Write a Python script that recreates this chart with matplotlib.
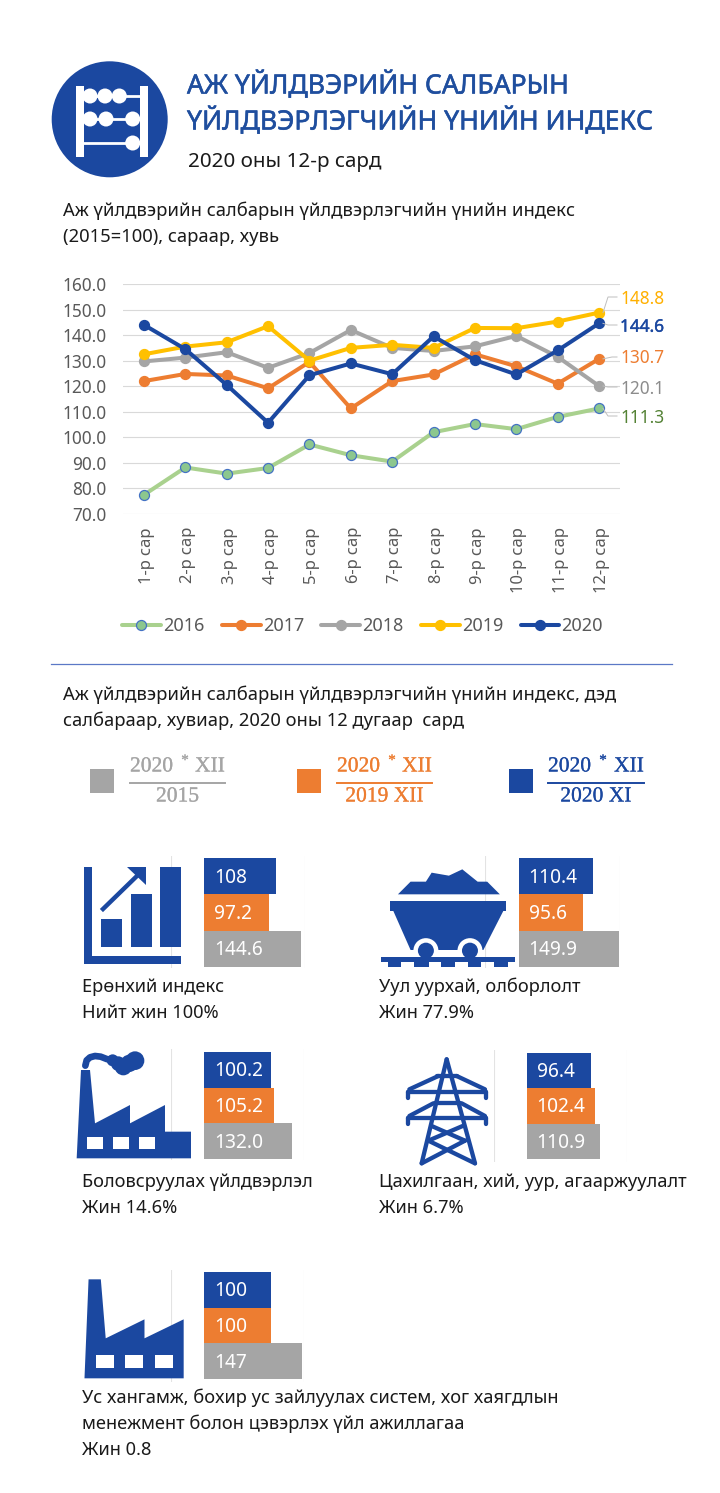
import matplotlib
matplotlib.use("Agg")
import matplotlib.pyplot as plt
import matplotlib.patheffects as pe
from matplotlib.patches import Polygon, Circle, Rectangle
from matplotlib.lines import Line2D
from matplotlib.ticker import FormatStrFormatter
from matplotlib.transforms import ScaledTranslation

W, H = 720, 1493
plt.rcParams['font.family'] = ['Noto Sans', 'DejaVu Sans']

months = ['1-р сар','2-р сар','3-р сар','4-р сар','5-р сар','6-р сар','7-р сар','8-р сар','9-р сар','10-р сар','11-р сар','12-р сар']
y2016 = [77.5,88.2,85.8,88.0,97.2,93.0,90.5,102.0,105.2,103.2,108.0,111.3]
y2017 = [122.0,124.8,124.2,119.2,129.5,111.3,122.0,124.6,132.5,127.8,121.0,130.7]
y2018 = [129.7,131.2,133.3,127.2,133.0,142.0,135.0,133.8,135.6,139.7,131.5,120.1]
y2019 = [132.5,135.5,137.2,143.5,130.0,135.0,136.2,135.0,142.8,142.7,145.3,148.8]
y2020 = [144.0,134.5,120.5,105.7,124.3,128.9,124.7,139.5,130.2,124.6,134.0,144.6]

bars_general = [144.6, 97.2, 108]
bars_mining = [149.9, 95.6, 110.4]
bars_manuf = [132.0, 105.2, 100.2]
bars_power = [110.9, 102.4, 96.4]
bars_water = [147, 100, 100]
bar_labels_general = ['144.6', '97.2', '108']
bar_labels_mining = ['149.9', '95.6', '110.4']
bar_labels_manuf = ['132.0', '105.2', '100.2']
bar_labels_power = ['110.9', '102.4', '96.4']
bar_labels_water = ['147', '100', '100']

BLUE = '#1B48A0'
ORANGE = '#ED7D31'
GRAY = '#A5A5A5'
YELLOW = '#FFC000'
LGREEN = '#A9D18E'
TICK = '#595959'
BODY = 13.25
CAP = 13.15

fig = plt.figure(figsize=(W/100, H/100), dpi=100, facecolor='white')

def axes_px(x0, y0, x1, y1, **kw):
    return fig.add_axes([x0/W, 1-y1/H, (x1-x0)/W, (y1-y0)/H], **kw)

# overlay in pixel coordinates
ov = fig.add_axes([0, 0, 1, 1], zorder=5)
ov.set_xlim(0, W); ov.set_ylim(H, 0); ov.axis('off'); ov.patch.set_alpha(0)

def T(x, y, s, size, color='#1a1a1a', heavy=0, **kw):
    kw.setdefault('va', 'center'); kw.setdefault('ha', 'left')
    t = ov.text(x, y, s, fontsize=size, color=color, **kw)
    if heavy:
        t.set_path_effects([pe.withStroke(linewidth=heavy, foreground=color)])
    return t

# ---- header
T(187, 85.5, 'АЖ ҮЙЛДВЭРИЙН САЛБАРЫН', 19.1, '#1F4E9E', heavy=0.4)
T(187, 121.5, 'ҮЙЛДВЭРЛЭГЧИЙН ҮНИЙН ИНДЕКС', 19.1, '#1F4E9E', heavy=0.4)
T(188, 162, '2020 оны 12-р сард', 14.8)
T(63, 210.5, 'Аж үйлдвэрийн салбарын үйлдвэрлэгчийн үнийн индекс', BODY)
T(63, 237.5, '(2015=100), сараар, хувь', BODY)
T(63, 694.5, 'Аж үйлдвэрийн салбарын үйлдвэрлэгчийн үнийн индекс, дэд', BODY)
T(63, 720.5, 'салбараар, хувиар, 2020 оны 12 дугаар  сард', BODY)
ov.add_line(Line2D([51, 672], [664, 664], color='#5B78C6', lw=0.9))

# abacus icon
ov.add_patch(Circle((109.7, 119.3), 58, fc=BLUE, ec='none'))
for x0, x1 in [(76, 84.3), (140, 148.3)]:
    ov.add_patch(Rectangle((x0, 86), x1-x0, 71.3, fc='white', ec='none'))
for ry, beads in [(96, [90, 105, 119.3]), (119, [90, 106, 132.7]), (143, [132.7])]:
    ov.add_line(Line2D([80, 144], [ry, ry], color='white', lw=2.0))
    for bx in beads:
        ov.add_patch(Circle((bx, ry), 7.5, fc='white', ec='none'))

# ---- line chart
ax = axes_px(123.3, 284, 619.7, 514)
xs = list(range(12))
series = [(y2016, LGREEN, '#8CC78E', '2016'), (y2017, ORANGE, ORANGE, '2017'), (y2018, GRAY, GRAY, '2018'),
          (y2019, YELLOW, YELLOW, '2019'), (y2020, BLUE, BLUE, '2020')]
for vals, lc, mc, name in series:
    mec = '#4472C4' if name == '2016' else mc
    ax.plot(xs, vals, color=lc, lw=2.9, marker='o', ms=7.2, mfc=mc, mec=mec, mew=0.9, label=name,
            solid_capstyle='round', clip_on=False, zorder=3)
ax.set_xlim(-0.5, 11.5); ax.set_ylim(70, 160)
ax.set_yticks(range(70, 161, 10))
ax.yaxis.set_major_formatter(FormatStrFormatter('%.1f'))
ax.set_xticks(xs); ax.set_xticklabels(months, rotation=90, ha='center', va='top')
ax.tick_params(axis='both', length=0, labelsize=12.4, labelcolor=TICK)
ax.tick_params(axis='y', pad=12)
ax.tick_params(axis='x', pad=9.5, labelsize=11.9)
shift = ScaledTranslation(3/100, 0, fig.dpi_scale_trans)
for lab in ax.get_xticklabels():
    lab.set_transform(lab.get_transform() + shift)
ax.grid(axis='y', color='#D9D9D9', lw=0.8); ax.set_axisbelow(True)
for s in ax.spines.values():
    s.set_visible(False)
ax.patch.set_alpha(0)
leg = ax.legend(ncol=5, loc='center', bbox_to_anchor=((362.5-123.3)/496.4, (514-626)/230),
                frameon=False, fontsize=13, handlelength=2.15, handletextpad=0.12, columnspacing=0.96,
                labelcolor=TICK, borderpad=0, borderaxespad=0)

# end labels with leader lines
ends = [(y2019, '148.8', '#FFB000', 298, 0), (y2020, '144.6', BLUE, 326, 0.3), (y2017, '130.7', ORANGE, 357, 0),
        (y2018, '120.1', '#8C8C8C', 388, 0), (y2016, '111.3', '#548235', 417, 0)]
for vals, lab, col, ty, hv in ends:
    T(620, ty + 0.7, lab, 12.4, col, heavy=hv)
    py = 284 + (160 - vals[-1]) * 230 / 90
    far = abs(py-ty) > 2
    ov.add_line(Line2D([603, 608 if far else 612, 617], [py, ty-1 if far else ty, ty-1 if far else ty],
                       color='#BFBFBF', lw=0.7, zorder=1))

# ---- fraction legend
def frac(swx, x0, x1, col, bottom):
    ov.add_patch(Rectangle((swx, 769), 24, 24, fc=col, ec='none'))
    ov.add_line(Line2D([x0, x1], [783, 783], color=col, lw=1.4))
    c = (x0+x1)/2
    kw = dict(family='Liberation Serif', heavy=0.15)
    T(x0, 767, '2020', 15.5, col, ha='left', **kw)
    T(x0+55, 761, '*', 11, col, ha='center', **kw)
    T(x1, 767, 'XII', 15.5, col, ha='right', **kw)
    T(c, 797, bottom, 15.5, col, ha='center', **kw)

frac(90, 130, 225, GRAY, '2015')
frac(296.5, 337, 432, ORANGE, '2019 XII')
frac(509, 548, 644, BLUE, '2020 XI')

# ---- small bar panels
def panel(x0, x1, y0, y1, b0, b1, vals, labels):
    a = axes_px(x0, y0, x1, y1)
    a.set_xlim(-50, 150)
    h = (b1-b0)/3
    a.set_ylim(-0.5 - (y1-b1)/h, 2.5 + (b0-y0)/h)
    a.barh([0, 1, 2], vals, height=1.0, color=[GRAY, ORANGE, BLUE], zorder=3)
    for i, lab in enumerate(labels):
        a.text(15, i - 0.04, lab, color='white', fontsize=13.8, va='center', ha='left', zorder=4)
    a.set_xticks([-50, 150]); a.set_yticks([])
    a.tick_params(length=0, labelbottom=False)
    a.grid(axis='x', color='#E3E3E3', lw=0.8)
    for s in a.spines.values():
        s.set_visible(False)
    a.patch.set_alpha(0)

panel(170.5, 304.5, 856, 968, 858, 967, bars_general, bar_labels_general)
panel(485, 619.5, 856, 968, 858, 967, bars_mining, bar_labels_mining)
panel(171, 304, 1049, 1160, 1052, 1159, bars_manuf, bar_labels_manuf)
panel(493.5, 626.5, 1050, 1162, 1053, 1159, bars_power, bar_labels_power)
panel(171, 304, 1270, 1382, 1272, 1379, bars_water, bar_labels_water)

# panel captions
T(82, 987, 'Ерөнхий индекс', CAP)
T(82, 1013, 'Нийт жин 100%', CAP)
T(379, 987, 'Уул уурхай, олборлолт', CAP)
T(379, 1013, 'Жин 77.9%', CAP)
T(82, 1182, 'Боловсруулах үйлдвэрлэл', CAP)
T(82, 1208, 'Жин 14.6%', CAP)
T(379, 1182, 'Цахилгаан, хий, уур, агааржуулалт', CAP)
T(379, 1208, 'Жин 6.7%', CAP)
T(82, 1398, 'Ус хангамж, бохир ус зайлуулах систем, хог хаягдлын', CAP)
T(82, 1424, 'менежмент болон цэвэрлэх үйл ажиллагаа', CAP)
T(82, 1450, 'Жин 0.8', CAP)

# ---- icons
def poly(pts, fc=BLUE):
    ov.add_patch(Polygon(pts, closed=True, fc=fc, ec='none'))

def rect(x0, y0, x1, y1, fc=BLUE):
    ov.add_patch(Rectangle((x0, y0), x1-x0, y1-y0, fc=fc, ec='none'))

z3 = lambda x, y: (x/2.61+60, y/3+740)
z4 = lambda x, y: (x/2.45+60, y/3+1040)

# growth chart icon
rect(84, 867, 92, 964); rect(84, 956, 181, 964)
rect(101, 919, 122, 947); rect(131, 894, 152, 947); rect(160, 867, 181, 947)
ov.add_line(Line2D([103, 139], [909, 874], color=BLUE, lw=3.2))
poly([(127, 867), (146, 867), (146, 885)])

# mine cart icon
poly([z3(*p) for p in [(882,463),(915,425),(955,425),(970,398),(1015,407),(1050,388),(1090,425),(1115,425),(1148,463)]])
a_, b_ = z3(862, 482), z3(1165, 513)
rect(a_[0], a_[1], b_[0], b_[1])
poly([z3(*p) for p in [(870,513),(1157,513),(1105,630),(915,630)]])
for wx in (955, 1070):
    c_ = z3(wx, 632)
    ov.add_patch(Circle(c_, 12.5, fc='white', ec='none'))
    ov.add_patch(Circle(c_, 8, fc=BLUE, ec='none'))
a_, b_ = z3(838, 650), z3(1187, 667)
rect(a_[0], a_[1], b_[0], b_[1])
for t0, t1 in [(855,890),(925,962),(995,1030),(1065,1100),(1133,1168)]:
    a_, b_ = z3(t0, 667), z3(t1, 680)
    rect(a_[0], a_[1], b_[0], b_[1])

# factory with smoke
zf = lambda x, y: (x/3+70, y/3+1045)
poly([zf(*p) for p in [(20,340),(33,75),(60,75),(75,235),(180,180),(180,235),(285,180),(285,260),(363,260),(363,340)]])
for x0 in (52, 130, 207):
    a_, b_ = zf(x0, 277), zf(x0+48, 312)
    rect(a_[0], a_[1], b_[0], b_[1], 'white')
sx, sy = zip(*[zf(*p) for p in [(46,62),(50,46),(60,37),(75,33),(92,35),(110,42),(125,46)]])
ov.add_line(Line2D(sx, sy, color=BLUE, lw=4.8, solid_capstyle='round', solid_joinstyle='round'))
for cx, cy, r in [(128,46,18),(145,56,22),(160,65,26),(178,55,26),(195,47,28)]:
    ov.add_patch(Circle(zf(cx, cy), r/3, fc=BLUE, ec='none'))

# pylon
zt = lambda x, y: (x/3+400, y/3+1050)
segs = [[(140,28),(65,340)], [(140,28),(225,340)],
        [(25,125),(258,125)], [(25,125),(25,143)], [(258,125),(258,143)], [(28,118),(115,78)], [(255,118),(170,78)], [(112,78),(172,78)],
        [(25,205),(258,205)], [(25,205),(25,222)], [(258,205),(258,222)], [(28,198),(100,160)], [(255,198),(185,160)], [(105,160),(180,160)],
        [(95,228),(195,272)], [(188,228),(85,272)], [(85,272),(225,340)], [(195,272),(65,340)]]
for s in segs:
    px, py = zip(*[zt(*p) for p in s])
    ov.add_line(Line2D(px, py, color=BLUE, lw=3.1, solid_capstyle='round'))

# factory without smoke
poly([z4(*p) for p in [(60,1015),(70,718),(100,718),(112,895),(207,838),(207,895),(303,838),(303,1015)]])
for x0 in (88, 160, 232):
    a_, b_ = z4(x0, 945), z4(x0+44, 985)
    rect(a_[0], a_[1], b_[0], b_[1], 'white')

fig.savefig('out.png', dpi=100, facecolor='white')
